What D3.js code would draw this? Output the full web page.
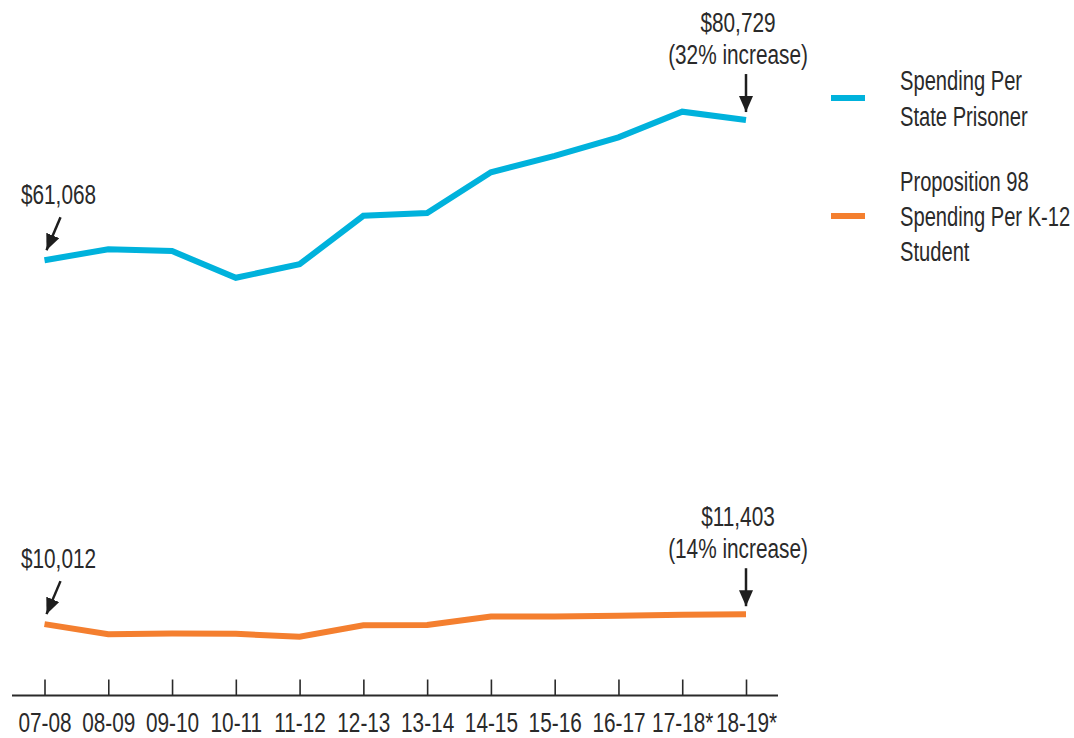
<!DOCTYPE html>
<html>
<head>
<meta charset="utf-8">
<script src="https://cdn.jsdelivr.net/npm/d3@7"></script>
<style>
  body { margin: 0; background: #fff; }
  text { font-family: "Liberation Sans", Arial, sans-serif; fill: #2a2a2a; }
</style>
</head>
<body>
<div id="chart"></div>
<script>
// fiscal years on the x axis
var years = ["07-08", "08-09", "09-10", "10-11", "11-12", "12-13", "13-14", "14-15", "15-16", "16-17", "17-18*", "18-19*"];
// spending per state prisoner ($)
var prisoner = [61068, 62600, 62350, 58600, 60500, 67300, 67700, 73400, 75700, 78300, 81900, 80729];
// Proposition 98 spending per K-12 student ($)
var student = [10012, 8600, 8700, 8650, 8250, 9850, 9880, 11080, 11100, 11200, 11320, 11403];

var seriesNames = [["Spending Per", "State Prisoner"], ["Proposition 98", "Spending Per K-12", "Student"]];
var seriesColors = ["#00b2dc", "#f47f2f"];

drawChart("#chart");

function drawChart(sel) {
  var width = 1074, height = 738;
  var squeeze = 0.77;   // condensed look
  var fontSize = 27;

  var svg = d3.select(sel).append("svg")
    .attr("width", width)
    .attr("height", height);

  // squeezed text placed at (px, py)
  function label(px, py, lines, anchor, lineGap, size, sq) {
    var g = svg.append("g")
      .attr("transform", "translate(" + px + "," + py + ") scale(" + (sq || squeeze) + ",1)");
    g.selectAll("text")
      .data(lines)
      .enter()
      .append("text")
      .attr("x", 0)
      .attr("y", function(d, i) { return i * lineGap; })
      .attr("text-anchor", anchor)
      .attr("font-size", size || fontSize)
      .text(function(d) { return d; });
    return g;
  }

  var x = d3.scalePoint()
    .domain(years)
    .range([44.5, 746]);

  var y = d3.scaleLinear()
    .domain([0, 85000])
    .range([695.5, 89.6]);

  var line = d3.line()
    .x(function(d, i) { return x(years[i]); })
    .y(function(d) { return y(d); });

  // axis along the bottom, ticks pointing up
  var xAxis = d3.axisBottom(x)
    .tickSizeInner(-16)
    .tickSizeOuter(0)
    .tickPadding(17);

  var gx = svg.append("g")
    .attr("transform", "translate(0," + y(0) + ")")
    .call(xAxis);
  gx.select(".domain").remove();
  gx.selectAll(".tick line").attr("stroke", "#2a2a2a").attr("stroke-width", 1.6);
  gx.selectAll(".tick text")
    .attr("font-size", fontSize)
    .attr("fill", "#2a2a2a")
    .attr("transform", "scale(" + squeeze + ",1)")
    .style("font-family", "'Liberation Sans', Arial, sans-serif");
  gx.append("line")
    .attr("x1", x(years[0]) - 32.5)
    .attr("x2", x(years[years.length - 1]) + 32)
    .attr("stroke", "#2a2a2a")
    .attr("stroke-width", 2);

  // the two lines
  [prisoner, student].forEach(function(vals, k) {
    svg.append("path")
      .datum(vals)
      .attr("d", line)
      .attr("fill", "none")
      .attr("stroke", seriesColors[k])
      .attr("stroke-width", 6)
      .attr("stroke-linejoin", "miter");
  });

  // arrow marker
  svg.append("defs").append("marker")
    .attr("id", "head")
    .attr("viewBox", "0 0 10 10")
    .attr("preserveAspectRatio", "none")
    .attr("refX", 10).attr("refY", 5)
    .attr("markerWidth", 6.4).attr("markerHeight", 5.6)
    .attr("markerUnits", "strokeWidth")
    .attr("orient", "auto")
    .append("path")
    .attr("d", "M0,0L10,5L0,10z")
    .attr("fill", "#1e1e1e");

  // first-year labels with slanted arrows
  [prisoner, student].forEach(function(vals) {
    var px = x(years[0]), py = y(vals[0]);
    svg.append("line")
      .attr("x1", px + 16).attr("y1", py - 43)
      .attr("x2", px + 2).attr("y2", py - 10)
      .attr("stroke", "#1e1e1e").attr("stroke-width", 2.5)
      .attr("marker-end", "url(#head)");
    label(px + 14, py - 56, ["$" + d3.format(",")(vals[0])], "middle", 0);
  });

  // last-year labels with vertical arrows
  [prisoner, student].forEach(function(vals) {
    var n = vals.length - 1;
    var px = x(years[n]), py = y(vals[n]);
    var pct = Math.round((vals[n] / vals[0] - 1) * 100);
    svg.append("line")
      .attr("x1", px).attr("y1", py - 46)
      .attr("x2", px).attr("y2", py - 8)
      .attr("stroke", "#1e1e1e").attr("stroke-width", 2.5)
      .attr("marker-end", "url(#head)");
    label(px - 8, py - 88, ["$" + d3.format(",")(vals[n]), "(" + pct + "% increase)"], "middle", 32);
  });

  // legend
  var legendTop = [98, 216];
  seriesNames.forEach(function(lines, k) {
    svg.append("line")
      .attr("x1", 831).attr("x2", 865)
      .attr("y1", legendTop[k]).attr("y2", legendTop[k])
      .attr("stroke", seriesColors[k])
      .attr("stroke-width", 6);
    var off = -(lines.length - 1) * 35.5 / 2 + 10;
    label(900, legendTop[k] + off, lines, "start", 35.5, 28, 0.72);
  });
}
</script>
</body>
</html>
